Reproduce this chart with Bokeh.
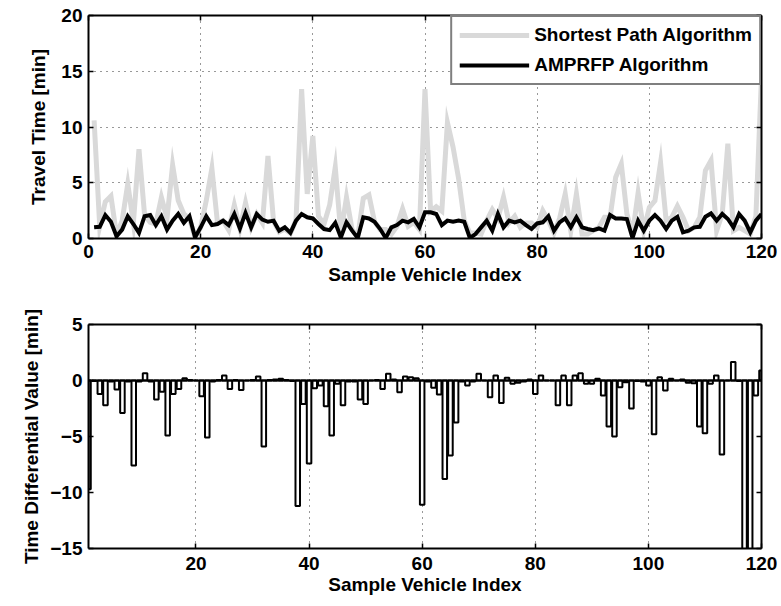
from bokeh.plotting import figure
from bokeh.models import Range1d, FixedTicker, LinearAxis, Legend, LegendItem, Span
from bokeh.layouts import column
from bokeh.embed import file_html
from bokeh.resources import INLINE

# ---------------- data ----------------
vehicle_index = list(range(1, 121))

shortest_path = [
    10.6, 1.1, 3.3, 3.8, 0.3, 1.6, 4.9, 1.4, 8.0, 2.1,
    1.45, 1.3, 3.7, 1.8, 6.6, 3.4, 2.2, 1.8, 0.1, 1.0,
    3.4, 6.3, 1.4, 1.6, 0.75, 3.0, 0.9, 3.2, 1.0, 2.2,
    1.4, 7.4, 1.55, 0.6, 0.85, 0.45, 1.65, 13.4, 4.0, 9.2,
    2.0, 1.3, 3.0, 6.4, 0.4, 3.7, 0.8, 0.15, 3.6, 3.9,
    1.5, 0.8, 0.8, 0.4, 1.1, 2.65, 1.1, 1.45, 0.8, 13.4,
    2.45, 2.85, 2.45, 10.4, 8.2, 5.35, 1.6, 0.5, 0.5, 0.4,
    1.6, 2.6, 1.8, 3.7, 1.4, 2.0, 1.0, 1.4, 1.4, 1.0,
    2.5, 1.6, 0.5, 1.8, 4.0, 0.7, 4.0, 0.4, 0.4, 0.7,
    1.0, 1.9, 1.9, 5.5, 6.7, 2.2, 0.4, 4.1, 0.7, 2.8,
    3.4, 6.8, 1.6, 1.9, 2.9, 1.9, 0.7, 1.0, 1.9, 6.1,
    7.0, 0.7, 2.2, 8.5, 0.7, 1.0, 0.7, 0.4, 2.0, 14.5,
]

amprfp = [
    1.0, 1.05, 2.1, 1.5, 0.2, 0.8, 2.0, 1.3, 0.5, 2.0,
    2.1, 1.2, 2.0, 0.8, 1.6, 2.2, 1.4, 2.0, 0.1, 1.0,
    2.0, 1.2, 1.3, 1.6, 1.2, 2.2, 0.9, 2.3, 1.0, 2.2,
    1.7, 1.5, 1.6, 0.7, 1.0, 0.5, 1.6, 2.2, 1.9, 1.8,
    1.3, 0.85, 0.75, 1.4, 0.1, 1.45, 0.7, 0.05, 1.9, 1.8,
    1.5, 0.85, 0.05, 1.0, 1.2, 1.6, 1.45, 1.75, 1.0, 2.35,
    2.35, 2.2, 1.2, 1.6, 1.5, 1.6, 1.5, 0.05, 0.4, 1.0,
    1.6, 0.7, 2.2, 1.0, 1.6, 1.45, 1.6, 1.2, 0.85, 1.35,
    1.45, 2.0, 0.7, 1.45, 1.8, 1.0, 1.9, 1.0, 0.85, 0.75,
    0.9, 0.7, 2.1, 1.8, 1.8, 1.75, 0.05, 1.6, 0.7, 1.6,
    2.1, 1.6, 0.85, 1.6, 1.95, 0.55, 0.7, 1.0, 1.05, 1.95,
    2.25, 1.6, 2.2, 1.75, 1.0, 2.2, 1.6, 0.55, 1.6, 2.2,
]

time_differential = [
    -9.7, -0.05, -1.2, -2.2, -0.1, -0.8, -2.9, -0.1, -7.6, -0.1,
    0.65, -0.1, -1.7, -1.0, -4.9, -1.2, -0.75, 0.2, 0.05, 0.0,
    -1.4, -5.1, -0.1, 0.05, 0.45, -0.75, 0.05, -0.85, 0.0, 0.05,
    0.35, -5.9, 0.05, 0.1, 0.15, 0.05, -0.05, -11.2, -2.1, -7.4,
    -0.7, -0.45, -2.3, -4.9, -0.3, -2.2, -0.1, -0.1, -1.7, -2.1,
    0.0, 0.05, -0.75, 0.6, 0.1, -1.05, 0.35, 0.3, 0.2, -11.1,
    -0.1, -0.65, -1.25, -8.8, -6.7, -3.75, -0.1, -0.45, -0.1, 0.6,
    0.0, -1.5, 0.45, -2.0, 0.25, -0.3, -0.2, -0.1, 0.1, -1.2,
    0.45, 0.0, 0.0, -2.2, 0.45, -2.2, 0.45, 0.65, -0.3, -0.3,
    0.15, -1.35, -4.1, -5.0, -0.6, -0.15, -2.5, -0.05, -0.1, -0.45,
    -4.8, 0.3, -0.9, 0.15, 0.0, 0.1, -0.2, -0.25, -4.1, -4.7,
    -0.3, 0.45, -6.6, 0.0, 1.65, -0.05, -16.0, -16.0, -1.35, 0.9,
]

top_x_ticks = [0, 20, 40, 60, 80, 100, 120]
top_y_ticks = [0, 5, 10, 15, 20]
bottom_x_ticks = [20, 40, 60, 80, 100, 120]
bottom_y_ticks = [-15, -10, -5, 0, 5]
bottom_y_labels = {-15: "\u221215", -10: "\u221210", -5: "\u22125", 0: "0", 5: "5"}

FONT = "Liberation Sans"
FS = "19px"


def style_axis(ax, show_labels=True):
    ax.axis_line_color = "black"
    ax.axis_line_width = 2
    ax.major_tick_in = 5
    ax.major_tick_out = 0
    ax.major_tick_line_color = "black"
    ax.major_tick_line_width = 1.5
    ax.minor_tick_line_color = None
    ax.major_label_text_font = FONT
    ax.major_label_text_font_style = "bold"
    ax.axis_label_text_font = FONT
    ax.axis_label_text_font_style = "bold"
    ax.axis_label_text_font_size = FS
    ax.axis_label_text_color = "black"
    if show_labels:
        ax.major_label_text_font_size = FS
        ax.major_label_text_color = "black"
        ax.major_label_standoff = 6
    else:
        # tick marks only: labels are not drawn at all
        ax.major_label_text_font_size = "2px"
        ax.major_label_text_color = None
        ax.major_label_standoff = 0


def add_box_axes(p, xticks, yticks):
    top = LinearAxis(ticker=FixedTicker(ticks=xticks))
    right = LinearAxis(ticker=FixedTicker(ticks=yticks))
    style_axis(top, False)
    style_axis(right, False)
    p.add_layout(top, "above")
    p.add_layout(right, "right")


# ---------------- top chart ----------------
p1 = figure(width=781, height=294, output_backend="svg", toolbar_location=None,
            x_range=Range1d(0, 120), y_range=Range1d(0, 20),
            min_border_left=88, min_border_right=20, min_border_top=15,
            min_border_bottom=56, background_fill_color="white",
            border_fill_color="white")
p1.outline_line_color = None
p1.xaxis.ticker = FixedTicker(ticks=top_x_ticks)
p1.yaxis.ticker = FixedTicker(ticks=top_y_ticks)
p1.xaxis.axis_label = "Sample Vehicle Index"
p1.yaxis.axis_label = "Travel Time [min]"
style_axis(p1.xaxis[0])
style_axis(p1.yaxis[0])
p1.xaxis.axis_label_standoff = 3
p1.yaxis.axis_label_standoff = 9
add_box_axes(p1, top_x_ticks, top_y_ticks)
for g in (p1.xgrid[0], p1.ygrid[0]):
    g.grid_line_color = "black"
    g.grid_line_alpha = 0.8
    g.grid_line_dash = "1 5"
    g.grid_line_width = 1

r_sp = p1.line(vehicle_index, shortest_path, line_color="#d9d9d9", line_width=5,
               line_join="miter")
r_am = p1.line(vehicle_index, amprfp, line_color="black", line_width=4,
               line_join="miter")

legend = Legend(items=[LegendItem(label="Shortest Path Algorithm", renderers=[r_sp]),
                       LegendItem(label="AMPRFP Algorithm", renderers=[r_am])],
                location="top_right")
legend.margin = 0
legend.padding = 7
legend.spacing = 8
legend.glyph_height = 22
legend.glyph_width = 70
legend.label_standoff = 5
legend.label_height = 22
legend.border_line_color = "black"
legend.border_line_width = 2
legend.background_fill_color = "white"
legend.background_fill_alpha = 1
legend.label_text_font = FONT
legend.label_text_font_style = "bold"
legend.label_text_font_size = FS
legend.label_text_color = "black"
p1.add_layout(legend)

# ---------------- bottom chart ----------------
p2 = figure(width=781, height=310, output_backend="svg", toolbar_location=None,
            x_range=Range1d(1, 120), y_range=Range1d(-15, 5),
            min_border_left=88, min_border_right=19, min_border_top=30,
            min_border_bottom=56, background_fill_color="white",
            border_fill_color="white")
p2.outline_line_color = None
p2.xaxis.ticker = FixedTicker(ticks=bottom_x_ticks)
p2.yaxis.ticker = FixedTicker(ticks=bottom_y_ticks)
p2.yaxis.major_label_overrides = bottom_y_labels
p2.xaxis.axis_label = "Sample Vehicle Index"
p2.yaxis.axis_label = "Time Differential Value [min]"
style_axis(p2.xaxis[0])
style_axis(p2.yaxis[0])
p2.xaxis.major_label_standoff = 8
p2.xaxis.axis_label_standoff = 1
p2.yaxis.axis_label_standoff = 5
add_box_axes(p2, bottom_x_ticks, bottom_y_ticks)
p2.xgrid[0].grid_line_color = "black"
p2.xgrid[0].grid_line_alpha = 0.8
p2.xgrid[0].grid_line_dash = "1 5"
p2.xgrid[0].grid_line_width = 1
p2.ygrid[0].grid_line_color = None

p2.vbar(x=vehicle_index, width=0.8, top=time_differential, bottom=0,
        fill_color="white", line_color="black", line_width=2)
p2.add_layout(Span(location=0, dimension="width", line_color="black", line_width=2))

layout = column(p1, p2, spacing=0)
open("out.html", "w").write(file_html(layout, INLINE))
